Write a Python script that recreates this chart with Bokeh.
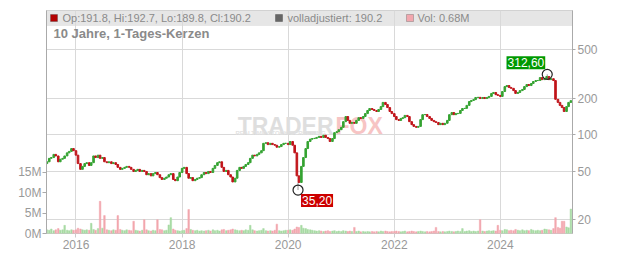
import pandas as pd
from datetime import datetime
from bokeh.plotting import figure
from bokeh.models import (Range1d, LinearAxis, FixedTicker, BoxAnnotation, Label,
                          ColumnDataSource, LinearScale, DatetimeTickFormatter)
from bokeh.embed import file_html
from bokeh.resources import INLINE

# ---------------- data ----------------
period_start = "2015-06-15"
period_end = "2025-05-01"
first_open = 58.0

closes_2015 = [60, 64, 65, 69, 67, 60, 63, 64, 67, 71, 73, 77, 74]
closes_2016 = [68, 58, 52, 55, 58, 59, 56, 59, 67, 65, 68, 64, 65, 60, 59, 60, 58, 59, 57, 54, 52, 53, 54, 55]
closes_2017 = [54, 52, 50, 51, 52, 50, 51, 50, 47, 48, 46, 48, 49, 47, 44.5, 43, 44, 45, 47, 48, 43, 42, 45, 49]
closes_2018 = [53, 54, 48, 44, 44.5, 42, 43, 44, 44.5, 47, 49, 48, 50, 49, 53, 56, 59, 60, 54, 50, 51, 47, 45, 41]
closes_2019 = [44, 51, 54, 53, 55, 57, 59, 64, 68, 67, 69, 71, 74, 85, 86, 83, 85, 83, 82, 79, 80, 83, 85, 85]
closes_2020 = [83, 88, 82, 71, 46, 40.6, 55, 65, 77, 88, 92, 93, 93.5, 95, 97, 95, 99, 95, 93, 88, 93, 104, 106, 110]
closes_2021 = [115, 128, 141, 131, 124, 126, 124, 131, 138, 136, 141, 149, 158, 164, 161, 158, 155, 161, 170, 184, 177, 167, 155, 149]
closes_2022 = [141, 133, 131, 136, 138, 144, 141, 128, 121, 117, 115, 117, 133, 146, 146.5, 141, 136, 131, 128, 126, 121, 124, 121, 124]
closes_2023 = [131, 146, 152, 146, 149, 149.5, 158, 164, 164.5, 174, 187, 191, 194, 202, 202.5, 198, 202, 198, 202, 206, 218, 222, 213, 210]
closes_2024 = [206, 226, 248, 253, 244, 240, 230, 218, 222, 230, 235, 248, 258, 253, 263, 273, 278, 278.5, 294, 283, 288, 300, 283, 288]
closes_2025 = [278, 195, 184, 174, 167, 155, 170, 184, 190.2]

vol_2015 = [0.9, 0.8, 1.1, 0.7, 0.9, 1.2, 0.8, 0.9, 2.0, 0.8, 0.7, 0.9, 0.8]
vol_2016 = [0.9, 1.3, 1.1, 0.9, 0.8, 0.9, 0.8, 2.5, 1.0, 0.8, 1.2, 7.9, 1.3, 4.4, 0.9, 0.8, 0.7, 0.9, 0.8, 4.4, 1.0, 0.8, 0.7, 0.9]
vol_2017 = [0.8, 0.7, 3.0, 0.8, 0.7, 0.6, 0.8, 3.4, 0.9, 0.7, 0.6, 0.8, 0.7, 3.4, 1.0, 0.9, 0.7, 0.8, 2.1, 3.9, 1.1, 0.8, 0.7, 0.6]
vol_2018 = [0.7, 0.8, 1.2, 5.9, 1.0, 0.8, 0.7, 0.8, 0.6, 0.7, 0.6, 0.7, 0.8, 0.6, 0.9, 0.7, 0.8, 0.6, 0.9, 1.0, 0.7, 0.8, 0.9, 1.1]
vol_2019 = [0.9, 0.8, 0.7, 0.8, 0.7, 0.9, 0.8, 2.0, 0.9, 0.7, 0.6, 0.7, 0.8, 1.2, 0.7, 0.6, 0.7, 0.6, 0.8, 2.3, 0.7, 0.6, 0.7, 0.8]
vol_2020 = [0.8, 0.9, 0.8, 1.1, 1.6, 1.5, 2.0, 1.3, 1.2, 1.0, 0.9, 0.8, 0.7, 0.6, 0.7, 0.6, 0.5, 0.6, 0.7, 0.5, 0.6, 0.7, 0.5, 0.6]
vol_2021 = [0.5, 0.7, 0.6, 0.5, 0.6, 0.5, 1.5, 0.5, 0.6, 0.4, 0.5, 0.4, 0.5, 0.4, 0.5, 0.4, 0.5, 0.4, 0.6, 0.5, 0.6, 0.5, 0.4, 0.5]
vol_2022 = [0.5, 0.6, 0.5, 0.4, 0.5, 0.6, 0.4, 0.5, 0.6, 0.5, 0.4, 0.5, 0.6, 0.5, 0.4, 0.5, 0.4, 0.5, 0.6, 1.5, 0.5, 0.4, 0.5, 0.4]
vol_2023 = [0.5, 0.6, 0.5, 0.4, 0.5, 0.6, 0.5, 1.2, 0.5, 0.6, 0.7, 0.5, 0.6, 0.5, 0.6, 3.4, 0.6, 0.5, 0.6, 0.7, 0.6, 0.7, 0.6, 2.0]
vol_2024 = [0.8, 0.7, 1.0, 0.9, 0.7, 0.8, 0.7, 1.0, 0.8, 0.7, 0.9, 0.7, 0.8, 0.7, 1.0, 0.8, 0.7, 0.8, 0.7, 0.8, 1.1, 1.0, 0.9, 0.8]
vol_2025 = [1.2, 3.9, 1.5, 1.3, 3.0, 3.0, 1.6, 1.4, 6.0]

price_ticks = [20, 50, 100, 200, 500]
vol_ticks = [0, 5, 10, 15]
vol_tick_labels = ["0M", "5M", "10M", "15M"]
year_ticks = [2016, 2018, 2020, 2022, 2024]

min_date, min_price, min_text = "2020-03-09", 35.20, "35,20"
max_date, max_price, max_text = "2024-11-19", 312.60, "312,60"

legend_ohlc = "Op:191.8, Hi:192.7, Lo:189.8, Cl:190.2"
legend_adj = "volladjustiert: 190.2"
legend_vol = "Vol: 0.68M"
title_text = "10 Jahre, 1-Tages-Kerzen"

# ---------------- build ----------------
closes = (closes_2015 + closes_2016 + closes_2017 + closes_2018 + closes_2019 + closes_2020 +
          closes_2021 + closes_2022 + closes_2023 + closes_2024 + closes_2025)
volumes = (vol_2015 + vol_2016 + vol_2017 + vol_2018 + vol_2019 + vol_2020 +
           vol_2021 + vol_2022 + vol_2023 + vol_2024 + vol_2025)
dates = list(pd.date_range(period_start, period_end, freq="SMS"))
n = min(len(dates), len(closes), len(volumes))
dates, closes, volumes = dates[:n], closes[:n], volumes[:n]
opens = [first_open] + closes[:-1]

UP, DOWN = "#35a332", "#c0141a"
VUP, VDOWN = "#a8dba4", "#f2a7ae"
up = [c >= o for o, c in zip(opens, closes)]
tops = [max(o, c) for o, c in zip(opens, closes)]
bottoms = [min(o, c) for o, c in zip(opens, closes)]
src = ColumnDataSource(dict(
    x=dates, top=tops, bottom=bottoms,
    color=[UP if u else DOWN for u in up],
    vol=volumes,
    vcolor=[VUP if u else VDOWN for u in up],
))

FONT = "Liberation Sans"
W, H = 632, 253
BL, BR, BT, BB = 46, 60, 10, 20
FB = H - BB  # frame bottom in canvas px

p = figure(width=W, height=H, x_axis_type="datetime", y_axis_type="log",
           y_axis_location="right",
           x_range=Range1d(datetime(2015, 6, 12), datetime(2025, 5, 12)),
           y_range=Range1d(15.5, 1043),
           output_backend="svg", toolbar_location=None,
           min_border_left=BL, min_border_right=BR, min_border_top=BT, min_border_bottom=BB)
p.background_fill_color = "white"
p.border_fill_color = "white"
p.outline_line_color = "#cccccc"

p.extra_y_ranges = {"vol": Range1d(0, 54.8)}
p.extra_y_scales = {"vol": LinearScale()}

day_ms = 86400000
def sx(x):
    return x - BL
def sy(y):
    return FB - y

# header band
p.add_layout(BoxAnnotation(bottom=sy(25), bottom_units="screen", fill_color="#e6e6e6",
                           fill_alpha=1, line_color="#cccccc", line_width=1, level="image"))

# watermark
p.add_layout(Label(x=sx(333), y=sy(125), x_units="screen", y_units="screen", text="TRADER",
                   text_align="right", text_baseline="alphabetic", text_font=FONT,
                   text_font_style="bold", text_font_size="23px", text_color="#dedede",
                   level="underlay"))
p.add_layout(Label(x=sx(335), y=sy(125), x_units="screen", y_units="screen", text="FOX",
                   text_align="left", text_baseline="alphabetic", text_font=FONT,
                   text_font_style="bold", text_font_size="23px", text_color="#f7c4c4",
                   level="underlay"))
p.add_layout(Label(x=sx(280), y=sy(132), x_units="screen", y_units="screen",
                   text="REALTIME STOCK SCREENING", text_align="center",
                   text_baseline="alphabetic", text_font=FONT, text_font_style="bold",
                   text_font_size="6px", text_color="#e2e2e2", level="underlay"))

# volume bars
p.vbar(x="x", top="vol", bottom=0, width=11 * day_ms, fill_color="vcolor",
       line_color="vcolor", line_width=0.5, source=src, y_range_name="vol")

# wicks to the marked extremes
mind = pd.Timestamp(min_date)
maxd = pd.Timestamp(max_date)
imin = min(range(n), key=lambda i: abs(dates[i] - mind))
imax = min(range(n), key=lambda i: abs(dates[i] - maxd))
p.segment(x0=[mind, maxd], y0=[bottoms[imin], tops[imax]], x1=[mind, maxd],
          y1=[min_price, max_price], line_color="#999999", line_width=1)

# candles
p.vbar(x="x", top="top", bottom="bottom", width=11 * day_ms, fill_color="color",
       line_color="color", line_width=1.0, source=src)

# extremes
p.scatter([mind], [min_price], marker="circle", size=10, fill_alpha=0,
          line_color="#222222", line_width=1.2)
p.scatter([maxd], [max_price], marker="circle", size=10, fill_alpha=0,
          line_color="#222222", line_width=1.2)
p.add_layout(Label(x=mind.timestamp() * 1000, y=min_price, text=min_text, x_offset=3, y_offset=-4,
                   text_align="left", text_baseline="top", text_font=FONT, text_font_size="12px",
                   text_color="white", background_fill_color="#cc0000",
                   padding=dict(left=1, right=1, top=2, bottom=2)))
p.add_layout(Label(x=maxd.timestamp() * 1000, y=max_price, text=max_text, x_offset=-2, y_offset=5,
                   text_align="right", text_baseline="bottom", text_font=FONT, text_font_size="12px",
                   text_color="white", background_fill_color="#009900",
                   padding=dict(left=1, right=1, top=2, bottom=2)))

# header legend
for (l, r, fc, lc) in [(50, 57, "#b30000", "#333333"), (275, 282, "#666666", "#222222"),
                       (406, 413, "#f2a7ae", "#444444")]:
    p.add_layout(BoxAnnotation(left=sx(l), right=sx(r), bottom=sy(21), top=sy(14),
                               left_units="screen", right_units="screen",
                               bottom_units="screen", top_units="screen",
                               fill_color=fc, fill_alpha=1, line_color=lc, line_width=1))
for (x, t) in [(62, legend_ohlc), (287, legend_adj), (417, legend_vol)]:
    p.add_layout(Label(x=sx(x), y=sy(17.5), x_units="screen", y_units="screen", text=t,
                       text_baseline="middle", text_font=FONT, text_font_size="11px",
                       text_color="#8a8a8a"))
p.add_layout(Label(x=sx(53), y=sy(33), x_units="screen", y_units="screen", text=title_text,
                   text_baseline="middle", text_font=FONT, text_font_size="13px",
                   text_font_style="bold", text_color="#8a8a8a"))

# axes and grids
year_ms = [pd.Timestamp(f"{y}-01-01").timestamp() * 1000 for y in year_ticks]
xax = p.xaxis[0]
xax.ticker = FixedTicker(ticks=year_ms)
xax.formatter = DatetimeTickFormatter(years="%Y", months="%Y", days="%Y", hours="%Y",
                                      hourmin="%Y", minutes="%Y", minsec="%Y", seconds="%Y",
                                      milliseconds="%Y", microseconds="%Y")
xax.axis_line_color = None
xax.major_tick_out = 4
xax.major_tick_in = 0
xax.major_tick_line_color = "#cccccc"
xax.minor_tick_line_color = None
xax.major_label_standoff = 2
xax.major_label_text_font = FONT
xax.major_label_text_font_size = "12px"
xax.major_label_text_color = "#999999"

yax = p.yaxis[0]
yax.ticker = FixedTicker(ticks=price_ticks)
yax.major_label_overrides = {t: str(t) for t in price_ticks}
yax.axis_line_color = "#aaaaaa"
yax.major_tick_out = 3
yax.major_tick_in = 0
yax.major_tick_line_color = "#aaaaaa"
yax.minor_tick_line_color = None
yax.major_label_standoff = 2
yax.major_label_text_font = FONT
yax.major_label_text_font_size = "12px"
yax.major_label_text_color = "#999999"

vax = LinearAxis(y_range_name="vol", ticker=FixedTicker(ticks=vol_ticks),
                 major_label_overrides={t: s for t, s in zip(vol_ticks, vol_tick_labels)})
vax.axis_line_color = "#aaaaaa"
vax.major_tick_out = 4
vax.major_tick_in = 0
vax.major_tick_line_color = "#aaaaaa"
vax.minor_tick_line_color = None
vax.major_label_standoff = 1
vax.major_label_text_font = FONT
vax.major_label_text_font_size = "12px"
vax.major_label_text_color = "#999999"
p.add_layout(vax, "left")

p.xgrid.ticker = FixedTicker(ticks=year_ms)
p.xgrid.grid_line_color = "#d9d9d9"
p.ygrid.ticker = FixedTicker(ticks=price_ticks)
p.ygrid.grid_line_color = "#d9d9d9"

open("out.html", "w").write(file_html(p, INLINE))
